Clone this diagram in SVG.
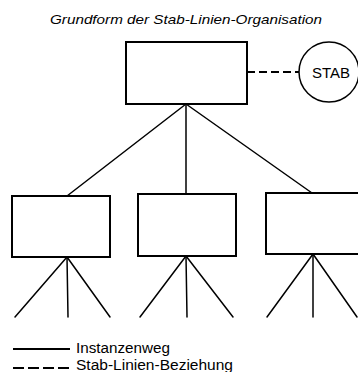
<svg xmlns="http://www.w3.org/2000/svg" width="358" height="372" viewBox="0 0 358 372">
<style>
  .box { fill: #fff; stroke: #000; stroke-width: 2; }
  .ln { stroke: #000; stroke-width: 1.5; fill: none; stroke-linecap: round; }
  .dash { stroke: #000; stroke-width: 2; fill: none; stroke-dasharray: 8 4; }
  .t { font-family: "Liberation Sans", Arial, sans-serif; fill: #000; }
</style>
<rect width="358" height="372" fill="#fff"/>
<text class="t" x="186" y="24" font-size="13.5" font-style="italic" text-anchor="middle" textLength="272" lengthAdjust="spacingAndGlyphs">Grundform der Stab-Linien-Organisation</text>
<g id="connectors">
  <line class="dash" x1="247" y1="72" x2="299" y2="72"/>
  <line class="ln" x1="186" y1="104" x2="67" y2="196"/>
  <line class="ln" x1="186" y1="104" x2="186" y2="194"/>
  <line class="ln" x1="186" y1="104" x2="312" y2="193"/>
  <line class="ln" x1="67" y1="257" x2="15" y2="317"/>
  <line class="ln" x1="67" y1="257" x2="68" y2="317"/>
  <line class="ln" x1="67" y1="257" x2="110" y2="317"/>
  <line class="ln" x1="186" y1="256" x2="140" y2="317"/>
  <line class="ln" x1="186" y1="256" x2="187" y2="317"/>
  <line class="ln" x1="186" y1="256" x2="233" y2="317"/>
  <line class="ln" x1="313" y1="254" x2="267" y2="317"/>
  <line class="ln" x1="313" y1="254" x2="313" y2="317"/>
  <line class="ln" x1="313" y1="254" x2="357" y2="317"/>
</g>
<g id="top">
  <rect class="box" x="126" y="42" width="121" height="62"/>
</g>
<g id="stab">
  <circle cx="329" cy="72" r="30" fill="#fff" stroke="#000" stroke-width="1.5"/>
  <text class="t" x="331" y="78" font-size="15" text-anchor="middle">STAB</text>
</g>
<g id="child1">
  <rect class="box" x="12" y="196" width="98" height="61"/>
</g>
<g id="child2">
  <rect class="box" x="138" y="194" width="98" height="62"/>
</g>
<g id="child3">
  <rect class="box" x="266" y="193" width="100" height="61"/>
</g>
<g id="legend">
  <line stroke="#000" stroke-width="2" x1="13" y1="349" x2="70" y2="349"/>
  <text class="t" x="76" y="353" font-size="14" textLength="94" lengthAdjust="spacingAndGlyphs">Instanzenweg</text>
  <line stroke="#000" stroke-width="2" stroke-dasharray="11 4" x1="13" y1="368" x2="72" y2="368"/>
  <text class="t" x="76" y="370" font-size="14" textLength="157" lengthAdjust="spacingAndGlyphs">Stab-Linien-Beziehung</text>
</g>
</svg>
